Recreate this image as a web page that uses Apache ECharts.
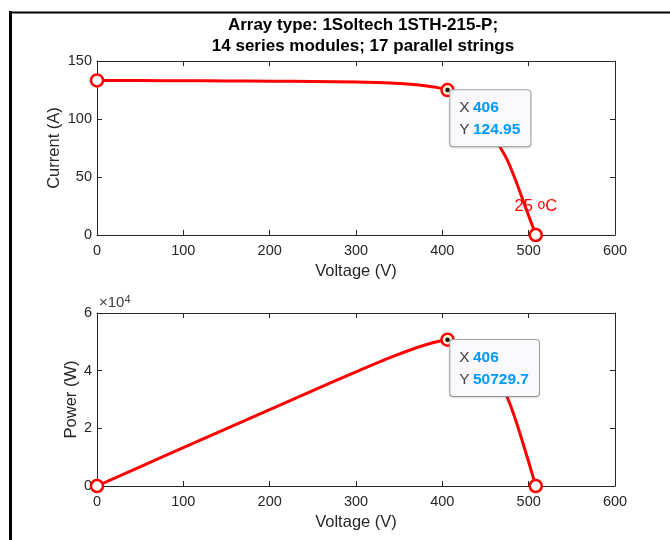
<!DOCTYPE html>
<html>
<head>
<meta charset="utf-8">
<script src="https://cdn.jsdelivr.net/npm/echarts@6/dist/echarts.min.js"></script>
<style>
  html, body { margin: 0; padding: 0; background: #fff; }
  #chart { width: 670px; height: 540px; }
</style>
</head>
<body>
<div id="chart"></div>
<script>
// I-V and P-V curve of the array
const voltage = [0, 50, 100, 150, 200, 250, 300, 340, 370, 390, 406, 420, 435, 450, 465, 475, 485, 495, 502, 508.2];
const current = [133.28, 133.1, 132.95, 132.8, 132.6, 132.35, 131.9, 131.1, 129.6, 127.6, 124.95, 118.5, 108.5, 95, 78, 65, 47, 26.8, 12.6, 0];
const power = [0, 6655, 13295, 19920, 26520, 33088, 39570, 44574, 47952, 49764, 50729.7, 49770, 47198, 42750, 36270, 30875, 22795, 13266, 6325, 0];

// maximum power point shown in the data tips
const mppVoltage = 406;
const mppCurrent = 124.95;
const mppPower = 50729.7;

const voltTicks = [0, 600, 100];
const currentTicks = [0, 150, 50];
const powerTicks = [0, 60000, 20000];
const powerExponent = 4;

const titleLines = ['Array type: 1Soltech 1STH-215-P;', '14 series modules; 17 parallel strings'];
const tempLabel = '25';

const FONT = "'Liberation Sans', Arial, Helvetica, sans-serif";
const AXIS_COLOR = '#262626';
const RED = '#ff0000';

const ivData = voltage.map((v, k) => [v, current[k]]);
const pvData = voltage.map((v, k) => [v, power[k]]);
const last = voltage.length - 1;

function mainAxis(grid, ticks, extra) {
  return Object.assign({
    gridIndex: grid,
    type: 'value',
    min: ticks[0],
    max: ticks[1],
    interval: ticks[2],
    axisLine: { onZero: false, lineStyle: { color: AXIS_COLOR, width: 1 } },
    axisTick: { inside: true, length: 5, lineStyle: { color: AXIS_COLOR } },
    splitLine: { show: false },
    axisLabel: { color: AXIS_COLOR, fontSize: 14.5, fontFamily: FONT, margin: 8.5 },
    nameTextStyle: { color: AXIS_COLOR, fontSize: 16.5, fontFamily: FONT },
    nameLocation: 'middle',
    nameMoveOverlap: false
  }, extra);
}

function mirrorAxis(grid, ticks, position) {
  return {
    gridIndex: grid,
    type: 'value',
    position: position,
    min: ticks[0],
    max: ticks[1],
    interval: ticks[2],
    axisLine: { onZero: false, lineStyle: { color: AXIS_COLOR, width: 1 } },
    axisTick: { inside: true, length: 5, lineStyle: { color: AXIS_COLOR } },
    axisLabel: { show: false },
    splitLine: { show: false }
  };
}

const tipLabel = (x, y) => ({
  show: true,
  position: [6.5, 4],
  formatter: '{k|X} {v|' + x + '}\n{k|Y} {v|' + y + '}',
  backgroundColor: '#f9f9fd',
  borderColor: '#a3a3a3',
  borderWidth: 1,
  borderRadius: 3,
  padding: [7, 10, 6, 9],
  shadowColor: 'rgba(0,0,0,0.12)',
  shadowBlur: 2,
  shadowOffsetY: 1,
  rich: {
    k: { color: '#404040', fontSize: 15.5, fontFamily: FONT, lineHeight: 21.5 },
    v: { color: '#0099ff', fontSize: 15.5, fontWeight: 'bold', fontFamily: FONT, lineHeight: 21.5 }
  }
});

const ringStyle = { color: '#fff', borderColor: RED, borderWidth: 2.5, opacity: 1 };
const dotStyle = { color: '#1a1a1a', borderColor: '#f3eec4', borderWidth: 1.5, opacity: 1 };

const option = {
  backgroundColor: '#fff',
  animation: false,
  title: {
    text: titleLines.join('\n'),
    left: 358,
    textAlign: 'center',
    top: 10.5,
    textStyle: { fontFamily: FONT, fontSize: 17, fontWeight: 'bold', color: '#000', lineHeight: 20.5 }
  },
  grid: [
    { left: 97, top: 61, width: 518, height: 174 },
    { left: 97, top: 313, width: 518, height: 173 }
  ],
  xAxis: [
    mainAxis(0, voltTicks, { position: 'bottom', name: 'Voltage (V)', nameGap: 28 }),
    mirrorAxis(0, voltTicks, 'top'),
    mainAxis(1, voltTicks, { position: 'bottom', name: 'Voltage (V)', nameGap: 28 }),
    mirrorAxis(1, voltTicks, 'top')
  ],
  yAxis: [
    mainAxis(0, currentTicks, {
      position: 'left', name: 'Current (A)', nameGap: 34,
      axisLabel: { color: AXIS_COLOR, fontSize: 14.5, fontFamily: FONT, margin: 5 }
    }),
    mirrorAxis(0, currentTicks, 'right'),
    mainAxis(1, powerTicks, {
      position: 'left', name: 'Power (W)', nameGap: 17,
      axisLabel: {
        color: AXIS_COLOR, fontSize: 14.5, fontFamily: FONT, margin: 5,
        formatter: v => String(v / Math.pow(10, powerExponent))
      }
    }),
    mirrorAxis(1, powerTicks, 'right')
  ],
  series: [
    {
      type: 'line', xAxisIndex: 0, yAxisIndex: 0, data: ivData,
      smooth: 0.25, symbol: 'none',
      lineStyle: { color: RED, width: 3 }
    },
    {
      type: 'scatter', xAxisIndex: 0, yAxisIndex: 0, symbolSize: 12, itemStyle: ringStyle, z: 3,
      data: [
        ivData[0],
        [mppVoltage, mppCurrent],
        {
          value: ivData[last],
          label: {
            show: true,
            position: [-14, -30],
            formatter: '{t|' + tempLabel + ' }{s|o}{t|C}',
            rich: {
              t: { color: RED, fontSize: 16.5, fontFamily: FONT, lineHeight: 18 },
              s: { color: RED, fontSize: 14, fontFamily: FONT, lineHeight: 18, verticalAlign: 'top', padding: [0, 0, 9, 0] }
            }
          }
        }
      ]
    },
    {
      type: 'scatter', xAxisIndex: 0, yAxisIndex: 0, symbolSize: 6, itemStyle: dotStyle, z: 6,
      data: [[mppVoltage, mppCurrent]],
      label: tipLabel(mppVoltage, mppCurrent)
    },
    {
      type: 'line', xAxisIndex: 2, yAxisIndex: 2, data: pvData,
      smooth: 0.25, symbol: 'none',
      lineStyle: { color: RED, width: 3 }
    },
    {
      type: 'scatter', xAxisIndex: 2, yAxisIndex: 2, symbolSize: 12, itemStyle: ringStyle, z: 3,
      data: [pvData[0], [mppVoltage, mppPower], pvData[last]]
    },
    {
      type: 'scatter', xAxisIndex: 2, yAxisIndex: 2, symbolSize: 6, itemStyle: dotStyle, z: 6,
      data: [[mppVoltage, mppPower]],
      label: tipLabel(mppVoltage, mppPower)
    }
  ],
  graphic: [
    {
      type: 'text', left: 99, top: 294,
      style: {
        text: '{a|×10}{b|' + powerExponent + '}',
        rich: {
          a: { fill: '#404040', fontSize: 15, fontFamily: FONT, lineHeight: 18 },
          b: { fill: '#404040', fontSize: 11, fontFamily: FONT, lineHeight: 18, verticalAlign: 'top', padding: [0, 0, 7, 0] }
        }
      }
    },
    { type: 'line', shape: { x1: 10.5, y1: 11, x2: 10.5, y2: 545 }, style: { stroke: '#000', lineWidth: 3 } },
    { type: 'line', shape: { x1: 9, y1: 12.5, x2: 675, y2: 12.5 }, style: { stroke: '#000', lineWidth: 2 } }
  ]
};

const myChart = echarts.init(document.getElementById('chart'), null, { renderer: 'canvas' });
myChart.setOption(option);
</script>
</body>
</html>
